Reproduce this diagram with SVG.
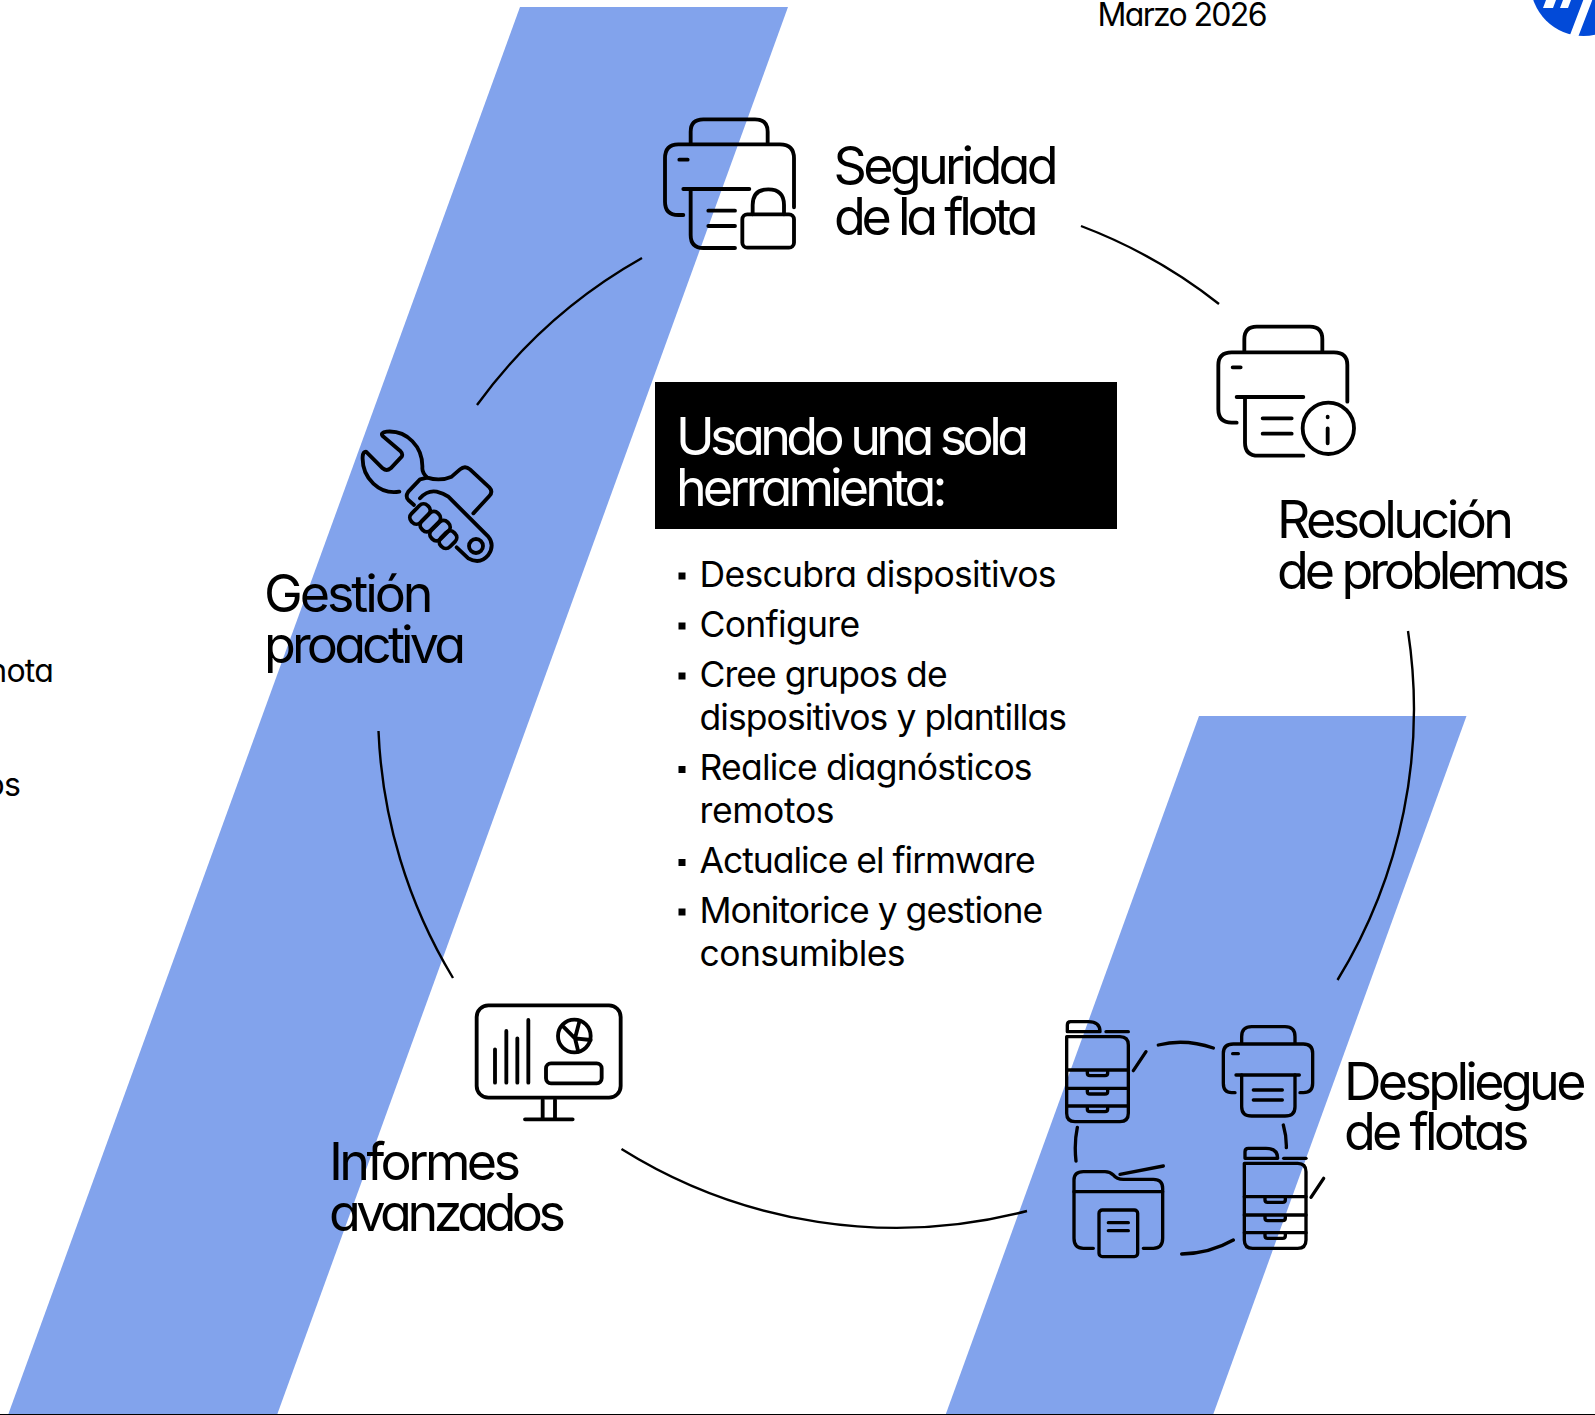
<svg xmlns="http://www.w3.org/2000/svg" xmlns:xlink="http://www.w3.org/1999/xlink" width="1595" height="1415" viewBox="0 0 1595 1415">
<style>
text{font-family:Inter,"Liberation Sans",sans-serif;font-feature-settings:"cv11";fill:#000}
.h{font-size:52px;letter-spacing:-2.5px}
.b{font-size:35.500px;letter-spacing:-.6px}
.w{fill:#fff}
.c{font-size:32px;letter-spacing:-.8px;text-anchor:end}
.ic{fill:none;stroke:#000;stroke-linecap:round;stroke-linejoin:round;stroke-width:11.500}
.arc{fill:none;stroke:#000;stroke-width:2.400}
.band{fill:#82A3EC}
</style>
<defs>
<g id="mfp">
<path d="M52 95V75Q52 65 62 65H115Q150 65 150 95Z"/>
<path d="M168 95H235"/>
<path d="M50 110H210Q235 110 235 135V340Q235 365 210 365H75Q50 365 50 340Z"/>
<path d="M50 210H235M50 265H235M50 318H235"/>
<path d="M112 212V220Q112 227 120 227H165Q173 227 173 220V212M112 267V275Q112 282 120 282H165Q173 282 173 275V267M112 320V328Q112 335 120 335H165Q173 335 173 328V320"/>
<path d="M250 212L288 155"/>
</g>
</defs>
<rect width="1595" height="1415" fill="#fff"/>
<g id="bands">
<polygon class="band" points="520,7 788,7 277,1415 8,1415"/>
<polygon class="band" points="1199,716 1466.500,716 1213,1415 945.500,1415"/>
<rect x="0" y="1414" width="1595" height="1" fill="#000"/>
</g>
<g id="connectors">
<path class="arc" d="M1081 226A518 518 0 0 1 1219 304"/>
<path class="arc" d="M1408 631A518 518 0 0 1 1337.500 980"/>
<path class="arc" d="M1027 1211A518 518 0 0 1 621.500 1149"/>
<path class="arc" d="M453 978A518 518 0 0 1 378.500 731"/>
<path class="arc" d="M477 405A518 518 0 0 1 642 258"/>
</g>
<g id="fecha"><text x="1097.500" y="25.500" font-size="32" textLength="170">Marzo 2026</text></g>
<g id="logo">
<circle cx="1583.500" cy="-17" r="53" fill="#024AD8"/>
<path fill="#fff" d="M1570 35L1583.300 0H1592.300L1578.300 36.500ZM1543 8L1546 0H1556L1553 8ZM1560 8L1563 0H1571L1568 8Z"/>
</g>
<g id="recortes">
<text class="c" x="53" y="681.500">nota</text>
<text class="c" x="20" y="796">os</text>
</g>
<g id="seguridad">
<g class="ic" transform="translate(620 90) scale(.33333)">
<path d="M212 158V125Q212 88 250 88H405Q443 88 443 125V158"/>
<path d="M190 375H175Q135 375 135 335V205Q135 163 175 163H480Q522 163 522 205V352"/>
<path d="M178 209H203M190 297H388"/>
<path d="M212 297V435Q212 474 250 474H345"/>
<path d="M265 362H345M265 408H345"/>
<rect x="367" y="373" width="155" height="100" rx="15"/>
<path d="M398 373V345Q398 298 445 298Q492 298 492 345V373"/>
</g>
<text class="h" x="833.500" y="183.500" textLength="222.500">Seguridad</text>
<text class="h" x="834" y="234.500" textLength="202">de la flota</text>
</g>
<g id="resolucion">
<g class="ic" transform="translate(1190 310) scale(.33333)">
<path d="M163 122V88Q163 50 200 50H360Q397 50 397 88V122"/>
<path d="M140 338H125Q85 338 85 298V165Q85 127 125 127H432Q472 127 472 165V275"/>
<path d="M128 172H152M140 261H340"/>
<path d="M165 261V398Q165 437 205 437H340"/>
<path d="M218 325H305M218 371H305"/>
<circle cx="415" cy="355" r="77"/>
<path d="M413 355V400M413 320V322"/>
</g>
<text class="h" x="1277" y="538" textLength="234.500">Resolución</text>
<text class="h" x="1277" y="588.500" textLength="290.500">de problemas</text>
</g>
<g id="gestion">
<g class="ic" transform="translate(340 410) scale(.33333)">
<path d="M178 245C120 255 65 205 68 140Q69 125 78 125L128 175Q140 185 152 175L185 140Q190 132 180 122L128 78Q120 68 140 65C200 60 250 110 247 175Q247 190 262 203Q300 215 335 200L360 178Q375 165 390 178L448 232Q460 245 448 258L400 310"/>
<path d="M262 203L240 208L205 245Q195 260 205 270L222 285"/>
<path d="M240 265Q262 240 290 245Q310 250 325 260L445 380Q465 405 445 435Q420 465 385 445L350 412"/>
<rect x="206" y="293" width="68" height="38" rx="17" transform="rotate(-45 240 312)"/>
<rect x="237" y="316" width="68" height="38" rx="17" transform="rotate(-45 271 335)"/>
<rect x="266" y="343" width="68" height="38" rx="17" transform="rotate(-45 300 362)"/>
<rect x="296" y="370" width="56" height="38" rx="17" transform="rotate(-45 324 389)"/>
<circle cx="408" cy="408" r="21"/>
</g>
<text class="h" x="264" y="612" textLength="167">Gestión</text>
<text class="h" x="264" y="663" textLength="199.500">proactiva</text>
</g>
<g id="informes">
<g class="ic" transform="translate(460 990) scale(.33333)">
<rect x="50" y="46" width="432" height="277" rx="35"/>
<path d="M105 178V278M139 123V278M172 145V278M205 90V278"/>
<circle cx="343" cy="138" r="49"/>
<path d="M310 110L345 145L358 95M345 145L355 185M345 145L392 150"/>
<rect x="258" y="220" width="167" height="60" rx="15"/>
<path d="M248 330V385M285 330V385M195 388H338"/>
</g>
<text class="h" x="329" y="1179.500" textLength="189.500">Informes</text>
<text class="h" x="329" y="1230.500" textLength="234.500">avanzados</text>
</g>
<g id="despliegue">
<g class="ic" style="stroke-width:10" transform="translate(1050 1000) scale(.33333)">
<use xlink:href="#mfp" href="#mfp"/>
<use xlink:href="#mfp" href="#mfp" x="533" y="380"/>
<path d="M575 128V110Q575 80 605 80H705Q735 80 735 110V128"/>
<path d="M555 278H545Q520 278 520 250V160Q520 132 550 132H760Q788 132 788 160V250Q788 278 760 278H750"/>
<path d="M548 161H565M558 225H748"/>
<path d="M575 225V320Q575 348 605 348H705Q735 348 735 320V225"/>
<path d="M610 270H697M610 300H697"/>
<path d="M130 745H100Q72 745 72 715V540Q72 515 100 515H165Q180 515 190 525Q200 538 220 538H310Q338 538 338 565V715Q338 745 310 745H280"/>
<path d="M72 575H338M210 523L340 498"/>
<rect x="147" y="630" width="116" height="140" rx="10"/>
<path d="M175 668H235M175 692H235"/>
<path d="M325 135Q405 115 490 144M700 375Q710 410 709 443M395 762Q480 760 550 720M82 382Q72 430 78 483"/>
</g>
<text class="h" x="1344" y="1100" textLength="240">Despliegue</text>
<text class="h" x="1344" y="1150" textLength="183">de flotas</text>
</g>
<g id="herramienta">
<rect x="655" y="382" width="462" height="147" fill="#000"/>
<text class="h w" x="676" y="455" textLength="350.500">Usando una sola</text>
<text class="h w" x="676" y="506" textLength="269">herramienta:</text>
<g fill="#000">
<rect x="678.500" y="572.500" width="7" height="7"/>
<rect x="678.500" y="622.500" width="7" height="7"/>
<rect x="678.500" y="672.500" width="7" height="7"/>
<rect x="678.500" y="766" width="7" height="7"/>
<rect x="678.500" y="859" width="7" height="7"/>
<rect x="678.500" y="908.500" width="7" height="7"/>
</g>
<text class="b" x="699.500" y="587" textLength="356.500">Descubra dispositivos</text>
<text class="b" x="699.500" y="637" textLength="160">Configure</text>
<text class="b" x="699.500" y="686.500" textLength="247.500">Cree grupos de</text>
<text class="b" x="699.500" y="729.500" textLength="367">dispositivos y plantillas</text>
<text class="b" x="699.500" y="780" textLength="332.500">Realice diagnósticos</text>
<text class="b" x="699.500" y="822.500" textLength="134.500">remotos</text>
<text class="b" x="699.500" y="873" textLength="335.500">Actualice el firmware</text>
<text class="b" x="699.500" y="923" textLength="343">Monitorice y gestione</text>
<text class="b" x="699.500" y="965.500" textLength="205.500">consumibles</text>
</g>
</svg>
